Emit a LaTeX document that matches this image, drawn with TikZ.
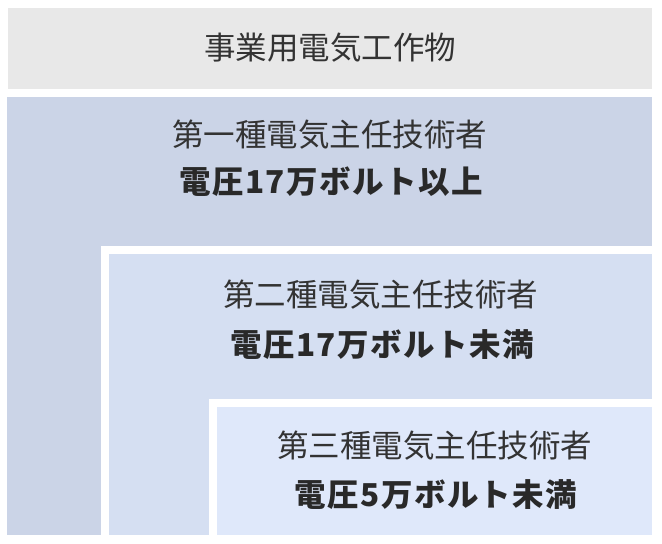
\documentclass[tikz,border=0pt]{standalone}
\usepackage{fontspec}
\newfontfamily\jpfont{Noto Sans CJK JP}
\newfontfamily\jpvolt[LetterSpace=4.5]{Noto Sans CJK JP}
\usepackage{tikz}
\definecolor{workgray}{HTML}{E8E8E8}
\definecolor{firstblue}{HTML}{CBD4E7}
\definecolor{secondblue}{HTML}{D5DFF2}
\definecolor{thirdblue}{HTML}{DFE8FA}
\definecolor{textgray}{HTML}{333333}
\tikzstyle{title}   = [font=\jpfont\fontsize{31.5}{33}\selectfont, text=textgray, inner sep=0pt]
\tikzstyle{volt}    = [font=\jpvolt\bfseries\fontsize{31.5}{33}\selectfont, text=textgray!80!black, inner sep=0pt]

\begin{document}
\begin{tikzpicture}[x=1pt,y=-1pt]
        \useasboundingbox (0,0) rectangle (662,544);

        \fill[workgray] (8,8) rectangle (652,89);
        \fill[firstblue] (7,97) rectangle (652,535);
        \fill[white] (101,246) rectangle (652,535);
        \fill[secondblue] (109,254) rectangle (652,535);
        \fill[white] (209,399) rectangle (652,535);
        \fill[thirdblue] (217,407) rectangle (652,535);

        \node[title] (work) at (330,48) {事業用電気工作物};

        \node[title] (first) at (329.5,135) {第一種電気主任技術者};
        \node[volt] (firstv) at (331,182) {電圧17万ボルト以上};

        \node[title] (second) at (380.5,295) {第二種電気主任技術者};
        \node[volt] (secondv) at (382,345) {電圧17万ボルト未満};

        \node[title] (third) at (434.5,446) {第三種電気主任技術者};
        \node[volt] (thirdv) at (436,495) {電圧5万ボルト未満};
    \end{tikzpicture}
\end{document}
